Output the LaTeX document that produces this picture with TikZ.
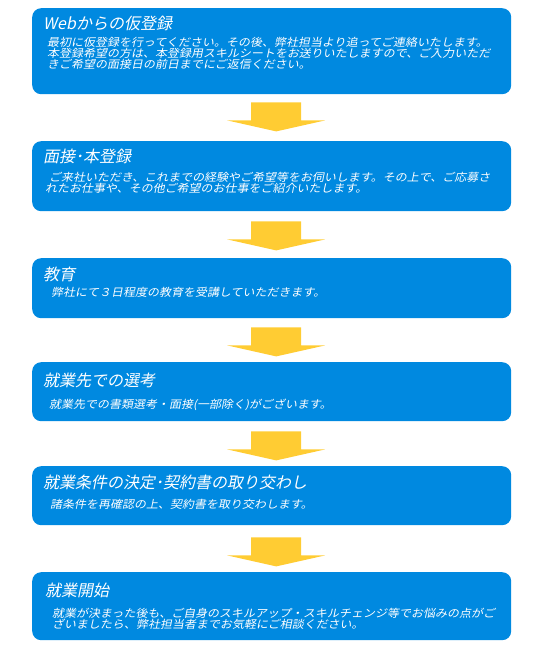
\documentclass[tikz,border=0pt]{standalone}
\usepackage{fontspec}
\newfontfamily\jtitle[FakeSlant=0.2]{Noto Sans CJK JP}
\newfontfamily\jbody[FakeSlant=0.2,FakeStretch=1.09]{Noto Sans CJK JP}
\definecolor{boxblue}{RGB}{0,137,224}
\definecolor{arrowyellow}{RGB}{255,204,51}
\tikzset{
  stepbox/.style={fill=boxblue, draw=none, rounded corners=9pt, anchor=north west, inner sep=0pt},
  ttl/.style={anchor=base west, inner sep=0pt, text=white, font=\jtitle\fontsize{16}{16}\selectfont},
  txt/.style={anchor=base west, inner sep=0pt, text=white, font=\jbody\fontsize{11}{11}\selectfont},
  downarrow/.pic={\fill[arrowyellow] (-25,0) -- (25,0) -- (25,18) -- (49,18) -- (0,29) -- (-49,18) -- (-25,18) -- cycle;}
}
\begin{document}
\begin{tikzpicture}[x=1pt,y=-1pt]
\useasboundingbox (0,0) rectangle (550,650);
% boxes
\node[stepbox, minimum width=479pt, minimum height=86pt] (b1) at (32,8) {};
\node[stepbox, minimum width=479pt, minimum height=70pt] (b2) at (32,141) {};
\node[stepbox, minimum width=479pt, minimum height=60pt] (b3) at (32,258) {};
\node[stepbox, minimum width=479pt, minimum height=59pt] (b4) at (32,362) {};
\node[stepbox, minimum width=479pt, minimum height=59pt] (b5) at (32,466) {};
\node[stepbox, minimum width=479pt, minimum height=68pt] (b6) at (32,572) {};
% arrows
\pic at ([xshift=4.5pt,yshift=-8pt]b1.south) {downarrow};
\pic at ([xshift=4.5pt,yshift=-10pt]b2.south) {downarrow};
\pic at ([xshift=4.5pt,yshift=-9pt]b3.south) {downarrow};
\pic at ([xshift=4.5pt,yshift=-10pt]b4.south) {downarrow};
\pic at ([xshift=4.5pt,yshift=-12pt]b5.south) {downarrow};
% box 1
\node[ttl] (t1) at (43,30) {Webからの仮登録};
\node[txt] (d1a) at (47,47) {最初に仮登録を行ってください。その後、弊社担当より追ってご連絡いたします。};
\node[txt] (d1b) at (47,58) {本登録希望の方は、本登録用スキルシートをお送りいたしますので、ご入力いただ};
\node[txt] (d1c) at (47,69) {きご希望の面接日の前日までにご返信ください。};
% box 2
\node[ttl] (t2) at (43,162) {面接･本登録};
\node[txt] (d2a) at (49,181) {ご来社いただき、これまでの経験やご希望等をお伺いします。その上で、ご応募さ};
\node[txt] (d2b) at (45,192) {れたお仕事や、その他ご希望のお仕事をご紹介いたします。};
% box 3
\node[ttl] (t3) at (43,280) {教育};
\node[txt] (d3) at (51,296) {弊社にて３日程度の教育を受講していただきます。};
% box 4
\node[ttl] (t4) at (43,386) {就業先での選考};
\node[txt] (d4) at (49,408) {就業先での書類選考・面接(一部除く)がございます。};
% box 5
\node[ttl] (t5) at (43,488) {就業条件の決定･契約書の取り交わし};
\node[txt] (d5) at (50,508) {諸条件を再確認の上、契約書を取り交わします。};
% box 6
\node[ttl] (t6) at (45,596) {就業開始};
\node[txt] (d6a) at (52,617) {就業が決まった後も、ご自身のスキルアップ・スキルチェンジ等でお悩みの点がご};
\node[txt] (d6b) at (52,628) {ざいましたら、弊社担当者までお気軽にご相談ください。};
\end{tikzpicture}
\end{document}
